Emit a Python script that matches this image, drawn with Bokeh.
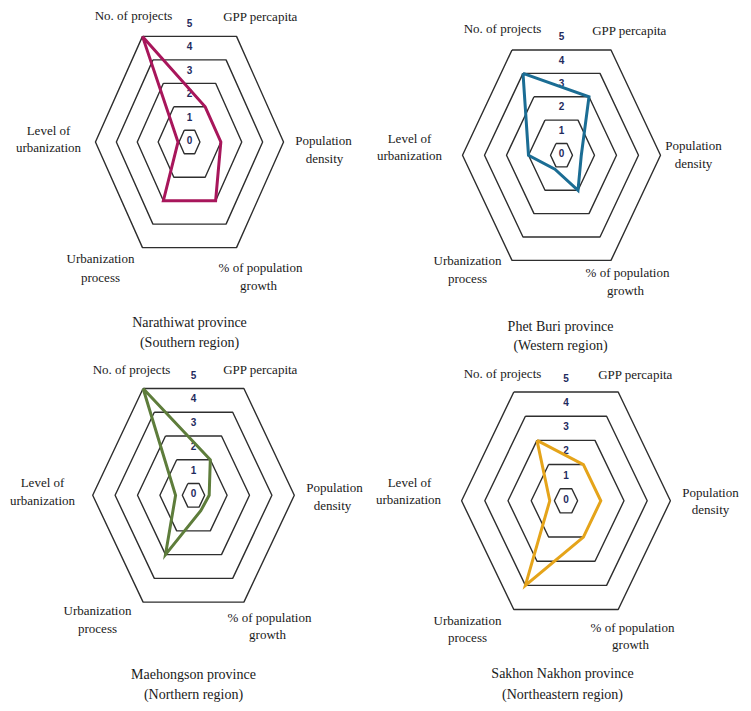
import numpy as np
from bokeh.plotting import figure
from bokeh.models import Range1d
from bokeh.core.properties import value
from bokeh.embed import file_html
from bokeh.resources import INLINE

# ---- data ----
axes_names = ["No. of projects", "GPP percapita", "Population density",
              "% of population growth", "Urbanization process", "Level of urbanization"]
ring_levels = [1, 2, 3, 4, 5]
tick_labels = ["0", "1", "2", "3", "4", "5"]

narathiwat = [5, 2, 2, 3, 3, 1.05]
phetburi = [4, 3, 1.4, 2, 1.1, 2]
maehongson = [5, 2, 1.2, 1.15, 3, 1.3]
sakhon = [3, 2, 2, 2, 4, 1.2]

titles = [("Narathiwat province", "(Southern region)"),
          ("Phet Buri province", "(Western region)"),
          ("Maehongson province", "(Northern region)"),
          ("Sakhon Nakhon province", "(Northeastern region)")]
series = [narathiwat, phetburi, maehongson, sakhon]
colors = ["#A8165B", "#1B6D94", "#5E7D3B", "#E5A41A"]

# ---- layout (window pixel coordinates) ----
angles = np.deg2rad([120, 60, 0, -60, -120, 180])
# centre x, centre y, px per unit horizontally, px per unit vertically
geom = [(189, 141.5, 20.9, 27.1),
        (561, 154.7, 22.0, 27.0),
        (193, 494.8, 22.4, 27.4),
        (565.5, 500.3, 23.2, 27.9)]
cat_pos = [
    [[(133, 15)], [(260, 16)], [(323, 140), (324, 158)], [(260, 267), (258, 285)],
     [(100, 258), (100, 277)], [(48, 130), (48, 147)]],
    [[(502, 28)], [(629, 30)], [(693, 145), (693, 163)], [(627, 272), (625, 290)],
     [(467, 260), (467, 278)], [(409, 138), (409, 155)]],
    [[(131, 369)], [(260, 369)], [(334, 487), (332, 505)], [(269, 617), (267, 634)],
     [(97, 610), (97, 628)], [(42, 482), (42, 500)]],
    [[(502, 373)], [(635, 374)], [(710, 492), (710, 509)], [(632, 627), (630, 644)],
     [(467, 620), (467, 637)], [(409, 482), (408, 499)]],
]
cat_lines = [["No. of projects"], ["GPP percapita"], ["Population", "density"],
             ["% of population", "growth"], ["Urbanization", "process"], ["Level of", "urbanization"]]
title_pos = [[(189, 322), (189, 342)], [(560, 326), (560, 345)],
             [(193, 674), (193, 694)], [(562, 673), (562, 694)]]

W, H = 745, 705
p = figure(width=W, height=H, x_range=Range1d(0, W), y_range=Range1d(H, 0),
           output_backend="svg", toolbar_location=None, min_border=0,
           x_axis_location=None, y_axis_location=None)
p.grid.visible = False
p.outline_line_color = None

serif = value("Liberation Serif")

for ci, (cx, cy, ux, uy) in enumerate(geom):
    # rings
    xs, ys = [], []
    for lv in ring_levels:
        r = lv - 0.5
        px = list(cx + r * ux * np.cos(angles))
        py = list(cy - r * uy * np.sin(angles))
        xs.append(px + [px[0]])
        ys.append(py + [py[0]])
    p.multi_line(xs, ys, line_color="#2e2e2e", line_width=1.4)
    # tick labels
    tx = [cx] * len(tick_labels)
    ty = [cy - k * 0.866 * uy - 2 for k in range(len(tick_labels))]
    p.text(tx, ty, text=tick_labels, text_font=value("Liberation Sans"), text_font_style="bold",
           text_font_size="10px", text_color="#1F2B5E", text_align="center", text_baseline="middle")
    # data polygon
    vals = np.array(series[ci], dtype=float)
    r = vals - 0.5
    px = list(cx + r * ux * np.cos(angles))
    py = list(cy - r * uy * np.sin(angles))
    p.line(px + [px[0]], py + [py[0]], line_color=colors[ci], line_width=3, line_join="miter")
    # category labels
    lx, ly, lt = [], [], []
    for k, lines in enumerate(cat_lines):
        for j, t in enumerate(lines):
            lx.append(cat_pos[ci][k][j][0]); ly.append(cat_pos[ci][k][j][1]); lt.append(t)
    p.text(lx, ly, text=lt, text_font=serif, text_font_size="13px", text_color="#1a1a1a",
           text_align="center", text_baseline="middle")
    # titles
    p.text([title_pos[ci][0][0], title_pos[ci][1][0]], [title_pos[ci][0][1], title_pos[ci][1][1]],
           text=list(titles[ci]), text_font=serif, text_font_size="14px", text_color="#1a1a1a",
           text_align="center", text_baseline="middle")

open("out.html", "w").write(file_html(p, INLINE))
